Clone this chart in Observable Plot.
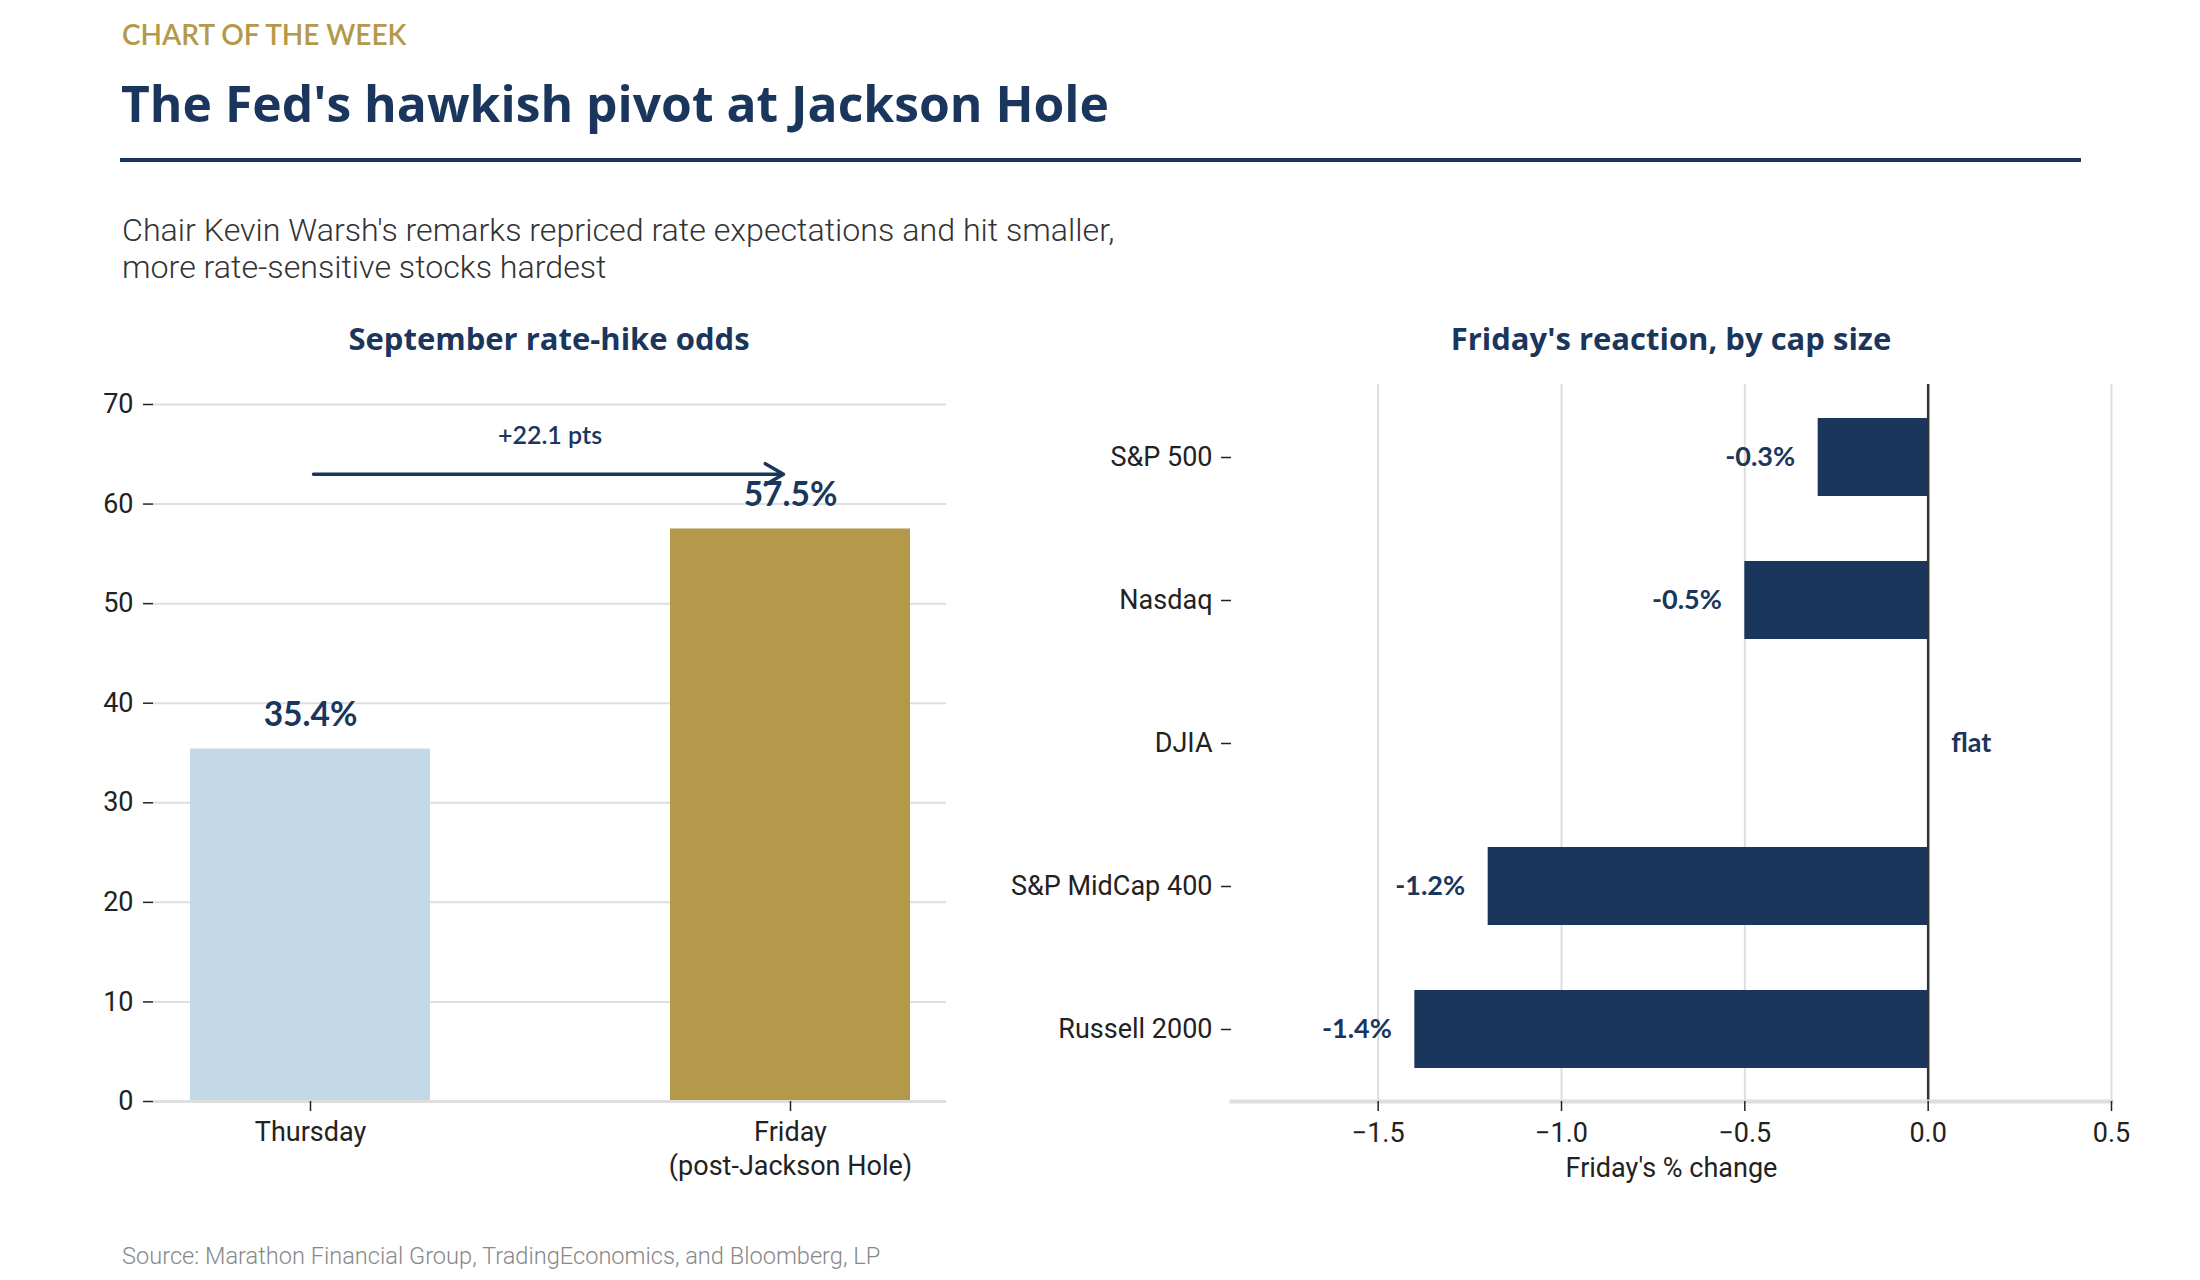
<!DOCTYPE html>
<html>
<head>
<meta charset="utf-8">
<script src="https://cdn.jsdelivr.net/npm/d3@7"></script>
<script src="https://cdn.jsdelivr.net/npm/@observablehq/plot@0.6"></script>
<style>
  html, body { margin: 0; padding: 0; background: #fff; }
  body { width: 2200px; height: 1280px; position: relative; overflow: hidden; }
  .abs { position: absolute; white-space: nowrap; }
  #kicker { left: 122px; top: 20px; font: 600 28px/1 Lato, sans-serif; color: #b5994b; }
  #title { left: 121px; top: 79px; font: 700 49.8px/1 "Open Sans", sans-serif; color: #1b365d; }
  #rule { left: 120px; top: 158px; width: 1961px; height: 4px; background: #1b365d; }
  #subtitle { left: 122px; top: 212px; font: 300 32.2px/37px Roboto, sans-serif; color: #333; white-space: pre; }
  .ptitle { top: 323px; width: 800px; text-align: center; font: 700 31px/1 "Open Sans", sans-serif; color: #1b365d; }
  #source { left: 122px; top: 1245px; font: 300 23.6px/1 Roboto, sans-serif; color: #888; }
  #left { left: 0; top: 370px; }
  #right { left: 1000px; top: 370px; }
  svg { overflow: visible; background: transparent; }
</style>
</head>
<body>
<div id="kicker" class="abs">CHART OF THE WEEK</div>
<div id="title" class="abs">The Fed's hawkish pivot at Jackson Hole</div>
<div id="rule" class="abs"></div>
<div id="subtitle" class="abs">Chair Kevin Warsh's remarks repriced rate expectations and hit smaller,
more rate-sensitive stocks hardest</div>
<div class="abs ptitle" style="left:149px">September rate-hike odds</div>
<div class="abs ptitle" style="left:1271px">Friday's reaction, by cap size</div>
<div id="left" class="abs"></div>
<div id="right" class="abs"></div>
<div id="source" class="abs">Source: Marathon Financial Group, TradingEconomics, and Bloomberg, LP</div>

<script>
// ---- Left panel data: September rate-hike odds ----
const days = ["Thursday", "Friday"];
const dayTickLabels = ["Thursday", "Friday\n(post-Jackson Hole)"];
const odds = [35.4, 57.5];
const oddsLabels = ["35.4%", "57.5%"];
const dayColors = ["#c3d9e8", "#b5994b"];
const oddsTicks = [0, 10, 20, 30, 40, 50, 60, 70];
const changeText = "+22.1 pts";
const arrowLevel = 63;
const changeTextLevel = 66.8;

// ---- Right panel data: Friday's reaction by cap size ----
const indices = ["S&P 500", "Nasdaq", "DJIA", "S&P MidCap 400", "Russell 2000"];
const changes = [-0.3, -0.5, 0, -1.2, -1.4];
const changeLabels = ["-0.3%", "-0.5%", "flat", "-1.2%", "-1.4%"];
const changeTicks = [-1.5, -1.0, -0.5, 0.0, 0.5];

const NAVY = "#1b365d";
const GRID = "#dedede";
const INK = "#222";

const oddsRows = days.map((d, i) => ({day: d, value: odds[i], label: oddsLabels[i], color: dayColors[i]}));
const changeRows = indices.map((n, i) => ({name: n, value: changes[i], label: changeLabels[i]}));

const left = Plot.plot({
  width: 1000, height: 880,
  marginTop: 34, marginBottom: 149, marginLeft: 153, marginRight: 54,
  style: {fontFamily: "Roboto, sans-serif", fontSize: "27px", color: INK, background: "transparent", overflow: "visible"},
  x: {domain: days, paddingInner: 0.5, paddingOuter: 0.076, label: null},
  y: {domain: [0, 70], label: null},
  marks: [
    Plot.gridY(oddsTicks, {stroke: GRID, strokeOpacity: 1, strokeWidth: 2}),
    Plot.barY(oddsRows, {x: "day", y: "value", fill: "color"}),
    Plot.ruleY([0], {stroke: GRID, strokeWidth: 3}),
    Plot.axisY({ticks: oddsTicks, tickSize: 10, tickPadding: 10, strokeWidth: 1.5, fontSize: 27, label: null}),
    Plot.axisX({tickSize: 10, tickPadding: 6, strokeWidth: 1.5, fontSize: 27, lineHeight: 1.25, label: null,
      tickFormat: d => dayTickLabels[days.indexOf(d)]}),
    Plot.text(oddsRows, {x: "day", y: "value", text: "label", dy: -23, lineAnchor: "bottom",
      fontFamily: "Lato, sans-serif", fontWeight: 700, fontSize: 33.5, fill: NAVY}),
    Plot.arrow([{from: days[0], to: days[1], y: arrowLevel}], {
      x1: "from", x2: "to", y1: "y", y2: "y", stroke: NAVY, strokeWidth: 3.5,
      insetStart: 3, insetEnd: 7, headLength: 9}),
    Plot.text([changeText], {y: () => changeTextLevel, frameAnchor: "middle", text: d => d,
      fontFamily: "Lato, sans-serif", fontWeight: 600, fontSize: 25, fill: NAVY})
  ]
});
document.getElementById("left").appendChild(left);

const right = Plot.plot({
  width: 1200, height: 880,
  marginTop: 14, marginBottom: 149, marginLeft: 231, marginRight: 89,
  style: {fontFamily: "Roboto, sans-serif", fontSize: "27px", color: INK, background: "transparent", overflow: "visible"},
  x: {domain: [-1.9, 0.5], label: null},
  y: {domain: indices, paddingInner: 0.455, paddingOuter: 0.2275, label: null},
  marks: [
    Plot.gridX(changeTicks, {stroke: GRID, strokeOpacity: 1, strokeWidth: 2}),
    Plot.barX(changeRows, {y: "name", x: "value", fill: NAVY}),
    Plot.ruleX([0], {stroke: "#333", strokeWidth: 2.5}),
    Plot.frame({anchor: "bottom", stroke: GRID, strokeWidth: 4}),
    Plot.axisY({tickSize: 10, tickPadding: 9, strokeWidth: 1.5, fontSize: 27, label: null}),
    Plot.axisX({ticks: changeTicks, tickSize: 10, tickPadding: 11, strokeWidth: 1.5, fontSize: 27,
      tickFormat: d3.format(".1f"), label: "Friday's % change", labelAnchor: "center", labelArrow: "none", labelOffset: 75}),
    Plot.text(changeRows.filter(d => d.value < 0), {y: "name", x: "value", text: "label", textAnchor: "end", dx: -23,
      fontFamily: "Lato, sans-serif", fontWeight: 700, fontSize: 27, fill: NAVY}),
    Plot.text(changeRows.filter(d => d.value === 0), {y: "name", x: "value", text: "label", textAnchor: "start", dx: 23,
      fontFamily: "Lato, sans-serif", fontWeight: 700, fontSize: 27, fill: NAVY})
  ]
});
document.getElementById("right").appendChild(right);
</script>
</body>
</html>
